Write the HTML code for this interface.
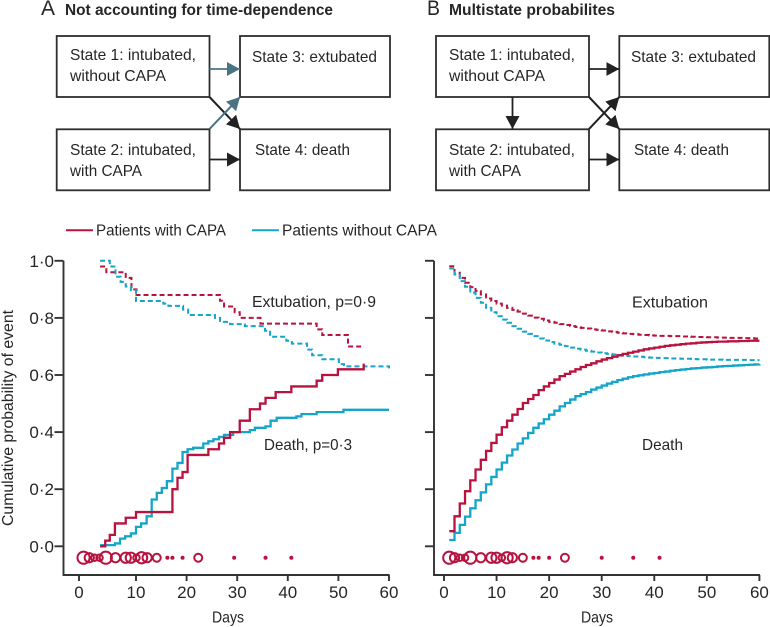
<!DOCTYPE html>
<html lang="en">
<head>
<meta charset="utf-8">
<title>Cumulative probability of event</title>
<style>
html,body{margin:0;padding:0;background:#fff;}
svg{display:block;}
text{font-family:"Liberation Sans",sans-serif;fill:#262626;}
.box{fill:#fff;stroke:#2e2e2e;stroke-width:1.8;}
.t{font-size:16px;}
.h{font-size:16px;font-weight:bold;}
.l{font-size:21px;}
.ax{fill:none;stroke:#333;stroke-width:1.9;}
</style>
</head>
<body>
<svg id="figure" width="770" height="627" viewBox="0 0 770 627" xmlns="http://www.w3.org/2000/svg">
<defs>
<marker id="ah-k" markerUnits="userSpaceOnUse" markerWidth="14" markerHeight="14" refX="13" refY="7" orient="auto"><polygon points="0,0 13,7 0,14" fill="#222"/></marker>
<marker id="ah-t" markerUnits="userSpaceOnUse" markerWidth="14" markerHeight="14" refX="13" refY="7" orient="auto"><polygon points="0,0 13,7 0,14" fill="#4a7484"/></marker>
</defs>

<g>
<text class="l" x="41" y="15" textLength="14" lengthAdjust="spacingAndGlyphs">A</text>
<text class="h" x="65" y="15" textLength="268" lengthAdjust="spacingAndGlyphs">Not accounting for time-dependence</text>
</g>
<g>
<text class="l" x="427" y="15" textLength="13" lengthAdjust="spacingAndGlyphs">B</text>
<text class="h" x="449" y="15" textLength="166" lengthAdjust="spacingAndGlyphs">Multistate probabilites</text>
</g>

<g>
<rect class="box" x="56.7" y="36" width="152.8" height="61"/>
<rect class="box" x="240" y="36" width="150" height="61"/>
<rect class="box" x="56.7" y="129.3" width="152.8" height="61"/>
<rect class="box" x="240" y="129.3" width="150" height="61"/>
<line x1="209.5" y1="69" x2="240" y2="69" stroke="#4a7484" stroke-width="1.8" marker-end="url(#ah-t)"/>
<line x1="209.5" y1="97" x2="240" y2="129" stroke="#222" stroke-width="2" marker-end="url(#ah-k)"/>
<line x1="209.5" y1="129" x2="240" y2="97" stroke="#4a7484" stroke-width="2" marker-end="url(#ah-t)"/>
<line x1="209.5" y1="159.5" x2="240" y2="159.5" stroke="#222" stroke-width="1.8" marker-end="url(#ah-k)"/>
<text class="t" x="70" y="60" textLength="126" lengthAdjust="spacingAndGlyphs">State 1: intubated,</text>
<text class="t" x="70" y="81" textLength="96" lengthAdjust="spacingAndGlyphs">without CAPA</text>
<text class="t" x="252" y="62" textLength="125" lengthAdjust="spacingAndGlyphs">State 3: extubated</text>
<text class="t" x="70" y="155" textLength="126" lengthAdjust="spacingAndGlyphs">State 2: intubated,</text>
<text class="t" x="70" y="176" textLength="72" lengthAdjust="spacingAndGlyphs">with CAPA</text>
<text class="t" x="255" y="155" textLength="95" lengthAdjust="spacingAndGlyphs">State 4: death</text>
</g>

<g>
<rect class="box" x="436" y="36" width="153" height="61"/>
<rect class="box" x="619.3" y="36" width="150" height="61"/>
<rect class="box" x="436" y="129.3" width="153" height="61"/>
<rect class="box" x="619.3" y="129.3" width="150" height="61"/>
<line x1="589" y1="69" x2="619.3" y2="69" stroke="#222" stroke-width="1.8" marker-end="url(#ah-k)"/>
<line x1="589" y1="97" x2="619.3" y2="129" stroke="#222" stroke-width="2" marker-end="url(#ah-k)"/>
<line x1="589" y1="129" x2="619.3" y2="97" stroke="#222" stroke-width="2" marker-end="url(#ah-k)"/>
<line x1="589" y1="159.5" x2="619.3" y2="159.5" stroke="#222" stroke-width="1.8" marker-end="url(#ah-k)"/>
<line x1="512.5" y1="97" x2="512.5" y2="129" stroke="#222" stroke-width="1.8" marker-end="url(#ah-k)"/>
<text class="t" x="449" y="60" textLength="126" lengthAdjust="spacingAndGlyphs">State 1: intubated,</text>
<text class="t" x="449" y="81" textLength="96" lengthAdjust="spacingAndGlyphs">without CAPA</text>
<text class="t" x="631" y="62" textLength="125" lengthAdjust="spacingAndGlyphs">State 3: extubated</text>
<text class="t" x="449" y="155" textLength="126" lengthAdjust="spacingAndGlyphs">State 2: intubated,</text>
<text class="t" x="449" y="176" textLength="72" lengthAdjust="spacingAndGlyphs">with CAPA</text>
<text class="t" x="634" y="155" textLength="95" lengthAdjust="spacingAndGlyphs">State 4: death</text>
</g>

<g>
<line x1="66" y1="230.3" x2="93" y2="230.3" stroke="#b8123f" stroke-width="2"/>
<text class="t" x="96" y="235.5" textLength="130" lengthAdjust="spacingAndGlyphs">Patients with CAPA</text>
<line x1="252" y1="230.3" x2="279" y2="230.3" stroke="#14a5c9" stroke-width="2"/>
<text class="t" x="282" y="235.5" textLength="155" lengthAdjust="spacingAndGlyphs">Patients without CAPA</text>
</g>

<text class="t" transform="translate(13,526) rotate(-90)" textLength="216" lengthAdjust="spacingAndGlyphs">Cumulative probability of event</text>
<text class="t" x="212" y="622.5" textLength="32" lengthAdjust="spacingAndGlyphs">Days</text>
<text class="t" x="581" y="622.5" textLength="32" lengthAdjust="spacingAndGlyphs">Days</text>
<text class="t" x="252" y="307" textLength="124" lengthAdjust="spacingAndGlyphs">Extubation, p=0·9</text>
<text class="t" x="264" y="450" textLength="88" lengthAdjust="spacingAndGlyphs">Death, p=0·3</text>
<text class="t" x="632" y="307.5" textLength="76" lengthAdjust="spacingAndGlyphs">Extubation</text>
<text class="t" x="642" y="450" textLength="41" lengthAdjust="spacingAndGlyphs">Death</text>

<g id="chart-a"></g>
<g id="chart-b"></g>
</svg>

<script>
// Shared axis tick labels
const xTicks = [0, 10, 20, 30, 40, 50, 60];
const yTicks = [0, 0.2, 0.4, 0.6, 0.8, 1.0];

// Panel A: step curves (day of step, cumulative probability after step)
const aDeathCapaDays = [3.7,4.6,5.4,6.3,8.2,10,17.2,18.2,19.2,20.2,24.3,26.4,27.4,28.6,30.5,32.5,34.5,35.6,37.6,40.7,45.7,46.8,49.9,55];
const aDeathCapaVals = [0,.02,.04,.08,.10,.12,.20,.24,.26,.32,.34,.36,.38,.40,.44,.48,.50,.52,.54,.56,.58,.60,.62,.64];
const aDeathNoCapaDays = [3.7,6.3,7.2,8.1,9.1,10,11,12.1,13.1,14.1,15.1,16.1,17.2,18.2,19.2,20.2,21.3,23.3,24.3,25.3,26.4,27.4,29.2,32.5,33.5,35.6,36.6,37.8,41.7,42.7,45.7,51,60];
const aDeathNoCapaVals = [.004,.01,.027,.035,.045,.068,.08,.105,.164,.187,.204,.228,.272,.292,.33,.34,.345,.36,.368,.375,.383,.39,.40,.407,.415,.42,.44,.45,.455,.463,.47,.478,.478];
const aExtCapaDays = [3.7,4.8,8.2,9.2,10.1,26.6,27.4,29.5,30.5,34.6,45.7,46.8,51.9,55];
const aExtCapaVals = [.98,.96,.94,.90,.88,.86,.84,.82,.80,.78,.76,.74,.70,.70];
const aExtNoCapaDays = [3.7,5.4,6.4,7.3,8.2,9.1,10,15.4,16.4,19.3,20.3,25.6,26.6,28.6,31.5,35.5,36.5,39.7,40.8,43.8,44.8,46.8,50.1,51.1,60];
const aExtNoCapaVals = [1,.98,.944,.926,.91,.897,.859,.85,.842,.829,.81,.80,.786,.778,.771,.755,.734,.72,.71,.689,.669,.655,.638,.63,.623];
// Panel A: censoring markers (day, number of patients)
const aCensorDays = [.8,1.8,2.7,3.6,4.7,6.4,8.2,9.1,10.1,11.1,12.2,14.1,16.2,17.2,19.2,22.3,29.4,35.6,40.7];
const aCensorCounts = [7,4,2,2,7,4,5,5,2,6,4,3,1,1,1,3,1,1,1];

// Panel B: daily multistate probabilities
const bDays = [1,2,3,4,5,6,7,8,9,10,11,12,13,14,15,16,17,18,19,20,21,22,23,24,25,26,27,28,29,30,31,32,33,34,35,36,37,38,39,40,41,42,43,44,45,46,47,48,49,50,51,52,53,54,55,56,57,58,59,60];
const bDeathCapaVals = [.053,.105,.15,.193,.231,.269,.303,.334,.362,.391,.417,.44,.461,.481,.502,.516,.53,.547,.56,.572,.584,.596,.604,.612,.62,.628,.635,.641,.648,.654,.659,.664,.669,.674,.678,.682,.686,.69,.693,.696,.699,.702,.704,.706,.708,.71,.711,.713,.714,.715,.716,.717,.717,.718,.718,.719,.719,.72,.72,.72];
const bDeathNoCapaVals = [.022,.047,.075,.104,.133,.161,.189,.217,.243,.269,.293,.318,.339,.36,.378,.397,.415,.43,.445,.461,.475,.49,.502,.514,.526,.533,.54,.549,.556,.563,.57,.576,.582,.587,.592,.596,.599,.602,.605,.607,.61,.612,.615,.617,.619,.621,.623,.624,.626,.627,.628,.63,.631,.632,.633,.634,.635,.636,.637,.638];
const bExtCapaVals = [.981,.958,.94,.923,.908,.894,.882,.868,.859,.85,.843,.835,.828,.822,.815,.808,.801,.797,.791,.786,.783,.778,.775,.771,.768,.765,.763,.76,.758,.756,.753,.751,.748,.746,.744,.743,.741,.74,.739,.738,.737,.737,.736,.736,.735,.735,.734,.733,.733,.732,.732,.731,.731,.73,.73,.73,.729,.729,.728,.728];
const bExtNoCapaVals = [.973,.952,.929,.909,.888,.87,.853,.835,.82,.806,.794,.783,.771,.762,.752,.744,.736,.728,.721,.715,.71,.706,.701,.696,.692,.689,.685,.682,.679,.676,.674,.672,.67,.668,.666,.665,.664,.662,.661,.66,.659,.659,.658,.658,.657,.657,.656,.655,.655,.654,.654,.654,.653,.653,.653,.653,.653,.652,.652,.652];
// Panel B: censoring markers (day, number of patients)
const bCensorDays = [1,2,3,4,5,7,9,10,11,12,13,15,17,18,20,23,30,36,41];
const bCensorCounts = [7,4,2,2,7,4,5,5,2,6,4,3,1,1,1,3,1,1,1];

const censorLevel = -0.04;
const RED = '#b8123f';
const BLUE = '#14a5c9';
const NS = 'http://www.w3.org/2000/svg';

function yScale(v) { return 546.3 - 285.5 * v; }
// Panel A: the printed axis has a wider first interval than the rest
function xScaleA(d) { return d <= 10 ? 79 + 5.7 * d : 136 + 5.06 * (d - 10); }
function xScaleB(d) { return 444 + 5.257 * d; }

function make(tag, parent, attrs) {
  const el = document.createElementNS(NS, tag);
  for (const k in attrs) el.setAttribute(k, attrs[k]);
  parent.appendChild(el);
  return el;
}

function stepPath(days, vals, xs) {
  let d = 'M' + xs(days[0]).toFixed(2) + ' ' + yScale(vals[0]).toFixed(2);
  for (let i = 1; i < days.length; i++) {
    d += 'H' + xs(days[i]).toFixed(2) + 'V' + yScale(vals[i]).toFixed(2);
  }
  return d;
}

function drawAxes(g, xs, axisX, axisEnd, showYLabels, prefix) {
  const axis = make('path', g, { d: 'M' + axisX + ' ' + yScale(1) + 'V575H' + axisEnd, 'class': 'ax' });
  
  
  yTicks.forEach(function (t) {
    const tick = make('line', g, { x1: axisX - 9, x2: axisX, y1: yScale(t), y2: yScale(t), stroke: '#333', 'stroke-width': 1.9 });
    
    
    if (showYLabels) {
      const lab = make('text', g, { x: axisX - 9.5, y: yScale(t) + 6, 'text-anchor': 'end', 'font-size': '17' });
      
      
      lab.textContent = t.toFixed(1).replace('.', '·');
    }
  });
  xTicks.forEach(function (t) {
    const tick = make('line', g, { x1: xs(t), x2: xs(t), y1: 575, y2: 581, stroke: '#333', 'stroke-width': 1.9 });
    
    
    const lab = make('text', g, { x: xs(t), y: 598, 'text-anchor': 'middle', 'font-size': '17' });
    
    
    lab.textContent = t;
  });
}

function drawCurve(g, days, vals, xs, color, dashed, name) {
  const attrs = { d: stepPath(days, vals, xs), fill: 'none', stroke: color, 'stroke-width': dashed ? 2 : 2.3 };
  if (dashed) attrs['stroke-dasharray'] = '5 3';
  const p = make('path', g, attrs);
  
  
}

function drawCensor(g, days, counts, xs, prefix) {
  days.forEach(function (d, i) {
    const n = counts[i];
    const attrs = n === 1
      ? { cx: xs(d), cy: yScale(censorLevel), r: 2, fill: RED }
      : { cx: xs(d), cy: yScale(censorLevel), r: 2.3 * Math.sqrt(n), fill: 'none', stroke: RED, 'stroke-width': 2 };
    const c = make('circle', g, attrs);
    
    
  });
}

const gA = document.getElementById('chart-a');
drawAxes(gA, xScaleA, 63.5, 389.5, true, 'a');
drawCurve(gA, aExtCapaDays, aExtCapaVals, xScaleA, RED, true, 'a-extubation-capa-line');
drawCurve(gA, aExtNoCapaDays, aExtNoCapaVals, xScaleA, BLUE, true, 'a-extubation-no-capa-line');
drawCurve(gA, aDeathNoCapaDays, aDeathNoCapaVals, xScaleA, BLUE, false, 'a-death-no-capa-line');
drawCurve(gA, aDeathCapaDays, aDeathCapaVals, xScaleA, RED, false, 'a-death-capa-line');
drawCensor(gA, aCensorDays, aCensorCounts, xScaleA, 'a');

const gB = document.getElementById('chart-b');
drawAxes(gB, xScaleB, 434, 760, false, 'b');
drawCurve(gB, bDays, bExtCapaVals, xScaleB, RED, true, 'b-extubation-capa-line');
drawCurve(gB, bDays, bExtNoCapaVals, xScaleB, BLUE, true, 'b-extubation-no-capa-line');
drawCurve(gB, bDays, bDeathNoCapaVals, xScaleB, BLUE, false, 'b-death-no-capa-line');
drawCurve(gB, bDays, bDeathCapaVals, xScaleB, RED, false, 'b-death-capa-line');
drawCensor(gB, bCensorDays, bCensorCounts, xScaleB, 'b');
</script>
</body>
</html>
